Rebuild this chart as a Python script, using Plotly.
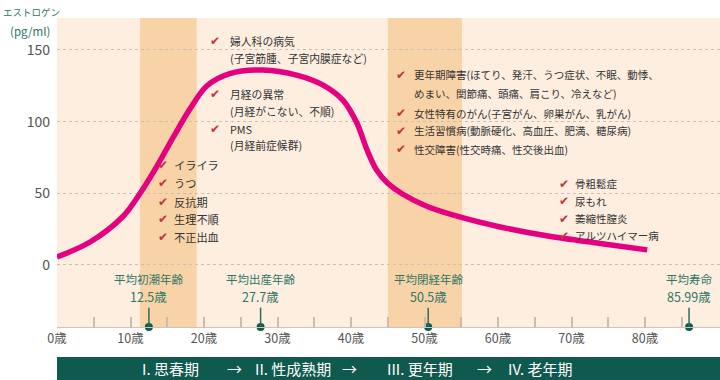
import plotly.graph_objects as go

# ---- data ----
ages = [0, 4.5, 9, 11.3, 13.6, 15.8, 18.1, 20.4, 23.5, 28, 32.6, 36.2, 38.9, 40.8,
        42.2, 43.5, 45, 47, 50.3, 54.8, 60.3, 67, 73.9, 80.3]
estrogen = [5.5, 16, 34, 50, 69, 89, 109, 125, 133.5, 136, 132.5, 125.5, 115, 99,
            80, 66, 57, 49.5, 41, 33.5, 26.5, 20, 15, 10.5]

bands = [(11.3, 19.0), (45.0, 55.1)]

milestone_ages = [12.5, 27.7, 50.5, 85.99]
milestone_names = ["平均初潮年齢", "平均出産年齢", "平均閉経年齢", "平均寿命"]
milestone_vals = ["12.5歳", "27.7歳", "50.5歳", "85.99歳"]

x_tickvals = list(range(0, 90, 5))
x_ticktext = [f"{v}歳" if v % 10 == 0 else "" for v in x_tickvals]
y_tickvals = [0, 50, 100, 150]

stages = ["I. 思春期", "→", "II. 性成熟期", "→", "III. 更年期", "→", "IV. 老年期"]
stage_x = [11.3, 22.9, 26.7, 38.5, 44.6, 56.9, 61.1]

# symptom groups: (check_x, text_x, font size, [(y, text, has_check)])
groups = [
    (21.5, 23.3, 10.8, [(156.3, "婦人科の病気", True),
                        (144.4, "(子宮筋腫、子宮内膜症など)", False),
                        (119.3, "月経の異常", True),
                        (107.4, "(月経がこない、不順)", False),
                        (95.0, "PMS", True),
                        (83.7, "(月経前症候群)", False)]),
    (46.8, 48.3, 10.5, [(132.6, "更年期障害(ほてり、発汗、うつ症状、不眠、動悸、", True),
                        (119.3, "めまい、関節痛、頭痛、肩こり、冷えなど)", False),
                        (106.0, "女性特有のがん(子宮がん、卵巣がん、乳がん)", True),
                        (93.5, "生活習慣病(動脈硬化、高血圧、肥満、糖尿病)", True),
                        (80.9, "性交障害(性交時痛、性交後出血)", True)]),
    (14.4, 15.6, 11.2, [(69.8, "イライラ", True),
                        (57.2, "うつ", True),
                        (44.0, "反抗期", True),
                        (32.1, "生理不順", True),
                        (19.5, "不正出血", True)]),
    (69.0, 70.2, 10.5, [(56.5, "骨粗鬆症", True),
                        (44.3, "尿もれ", True),
                        (32.1, "萎縮性膣炎", True),
                        (20.2, "アルツハイマー病", True)]),
]

FONT = "Noto Sans CJK JP, DejaVu Sans, sans-serif"
TEAL = "#2f7566"
DARK = "#333333"
CHECK = "#c4343c"

YMIN, YMAX = -43.3, 172.3

fig = go.Figure()

fig.add_trace(go.Scatter(
    x=ages, y=estrogen, mode="lines",
    line=dict(color="#e4007f", width=5.5, shape="spline", smoothing=0.9),
    hoverinfo="skip", showlegend=False))

fig.add_trace(go.Scatter(
    x=milestone_ages, y=[YMIN] * len(milestone_ages), mode="markers",
    marker=dict(color="#0f5c4f", size=8), cliponaxis=False,
    hoverinfo="skip", showlegend=False))

shapes = []
for x0, x1 in bands:
    shapes.append(dict(type="rect", xref="x", yref="paper", x0=x0, x1=x1, y0=0, y1=1,
                       fillcolor="#f9d3a8", line=dict(width=0), layer="below"))
for a in milestone_ages:
    shapes.append(dict(type="line", xref="x", yref="y", x0=a, x1=a, y0=-29.8, y1=YMIN,
                       line=dict(color="#2e6b5e", width=1.5)))
# bottom stage band
shapes.append(dict(type="rect", xref="paper", yref="paper", x0=0, x1=1,
                   y0=-0.1715, y1=-0.0971, fillcolor="#10594f", line=dict(width=0)))

annotations = []
for a, n, v in zip(milestone_ages, milestone_names, milestone_vals):
    annotations.append(dict(x=a, y=-9.8, xref="x", yref="y", text=n, showarrow=False,
                            font=dict(family=FONT, size=11.5, color=TEAL)))
    annotations.append(dict(x=a, y=-22.0, xref="x", yref="y", text=v, showarrow=False,
                            font=dict(family=FONT, size=12.5, color=TEAL)))

for s, sx in zip(stages, stage_x):
    annotations.append(dict(x=sx, y=-0.1327, xref="x", yref="paper", text=s,
                            showarrow=False, xanchor="left", yanchor="middle",
                            font=dict(family=FONT, size=15, color="white")))

for cx, tx, fs, lines in groups:
    for yv, txt, chk in lines:
        if chk:
            annotations.append(dict(x=cx, y=yv, xref="x", yref="y", text="✔",
                                    showarrow=False, xanchor="center", yanchor="middle",
                                    font=dict(family="DejaVu Sans", size=12, color=CHECK)))
        annotations.append(dict(x=tx, y=yv, xref="x", yref="y", text=txt,
                                showarrow=False, xanchor="left", yanchor="middle",
                                font=dict(family=FONT, size=fs, color=DARK)))

annotations.append(dict(x=-0.039, y=1.02, xref="paper", yref="paper", text="エストロゲン",
                        showarrow=False, xanchor="center", yanchor="middle",
                        font=dict(family=FONT, size=9.5, color=TEAL)))
annotations.append(dict(x=-0.040, y=0.957, xref="paper", yref="paper", text="(pg/ml)",
                        showarrow=False, xanchor="center", yanchor="middle",
                        font=dict(family=FONT, size=11.5, color=TEAL)))

fig.update_layout(
    width=720, height=380,
    margin=dict(l=57, r=0, t=18, b=53),
    paper_bgcolor="white", plot_bgcolor="#fdeee0",
    shapes=shapes, annotations=annotations,
    showlegend=False,
    xaxis=dict(range=[0, 90.2], showgrid=False, zeroline=False, showline=True,
               linecolor="#cdc3ba", linewidth=1,
               ticks="inside", ticklen=10, tickwidth=1.5, tickcolor="#cbbcad",
               tickvals=x_tickvals, ticktext=x_ticktext,
               tickfont=dict(family=FONT, size=12.5, color="#555555")),
    yaxis=dict(range=[YMIN, YMAX], showgrid=True, gridcolor="#c9beb3", griddash="dot",
               gridwidth=1, zeroline=False, showline=False, ticks="",
               tickvals=y_tickvals, ticklabelstandoff=6,
               tickfont=dict(family=FONT, size=14, color="#555555")),
)

fig.write_html("out.html", config={"displayModeBar": False},
               post_script="document.body.style.margin='0';document.body.style.overflow='hidden';")
